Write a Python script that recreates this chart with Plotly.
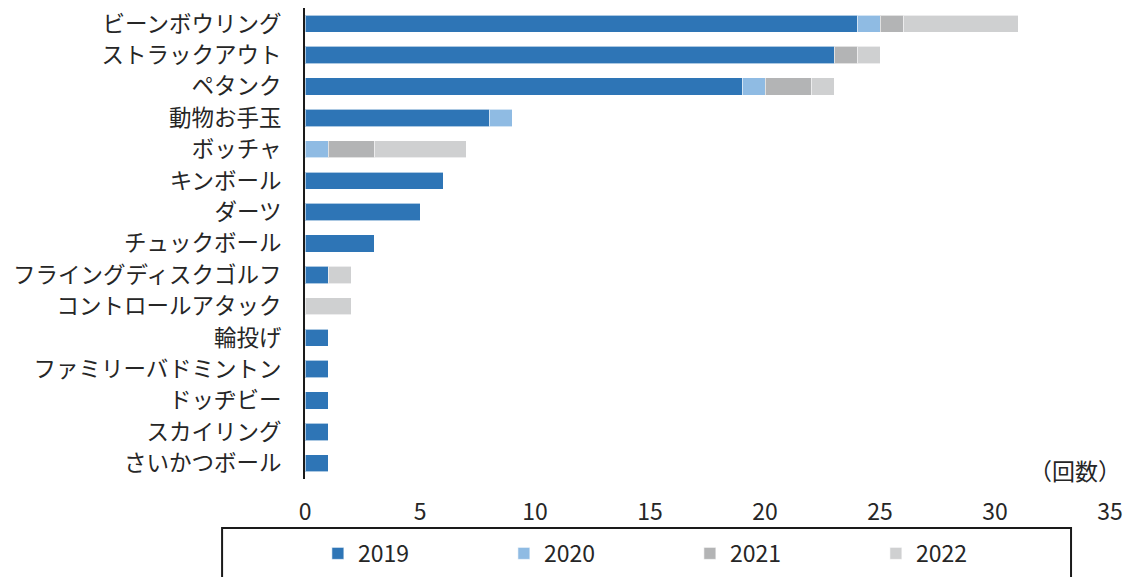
import plotly.graph_objects as go

# Categories listed top to bottom
categories = [
    "ビーンボウリング", "ストラックアウト", "ペタンク", "動物お手玉", "ボッチャ",
    "キンボール", "ダーツ", "チュックボール", "フライングディスクゴルフ",
    "コントロールアタック", "輪投げ", "ファミリーバドミントン", "ドッヂビー",
    "スカイリング", "さいかつボール",
]

years = ["2019", "2020", "2021", "2022"]

counts_2019 = [24, 23, 19, 8, 0, 6, 5, 3, 1, 0, 1, 1, 1, 1, 1]
counts_2020 = [1, 0, 1, 1, 1, 0, 0, 0, 0, 0, 0, 0, 0, 0, 0]
counts_2021 = [1, 1, 2, 0, 2, 0, 0, 0, 0, 0, 0, 0, 0, 0, 0]
counts_2022 = [5, 1, 1, 0, 4, 0, 0, 0, 1, 2, 0, 0, 0, 0, 0]

x_ticks = [0, 5, 10, 15, 20, 25, 30, 35]

series = [counts_2019, counts_2020, counts_2021, counts_2022]
colors = ["#2E75B6", "#8FBBE3", "#B3B4B5", "#CFD0D1"]

FONT = "Noto Sans CJK JP"
TEXT = "#262626"

fig = go.Figure()
for name, vals, col in zip(years, series, colors):
    fig.add_trace(go.Bar(
        y=categories, x=vals, name=name, orientation="h",
        marker=dict(color=col, line=dict(color="rgba(255,255,255,0.6)", width=1)),
        width=0.55,
    ))

fig.update_layout(
    barmode="stack",
    width=1132, height=577,
    margin=dict(l=305, r=22, t=8, b=98, autoexpand=False),
    paper_bgcolor="white", plot_bgcolor="white",
    font=dict(family=FONT, color=TEXT, size=20),
    showlegend=True,
    legend=dict(
        orientation="h", x=0.016, xanchor="left", y=-0.158, yanchor="middle",
        font=dict(family=FONT, size=23, color=TEXT),
        entrywidth=141, entrywidthmode="pixels",
        traceorder="normal", bgcolor="rgba(0,0,0,0)", itemclick=False,
    ),
    xaxis=dict(
        range=[0, 35], tickvals=x_ticks, ticktext=[str(t) for t in x_ticks],
        showgrid=False, zeroline=False, showline=False, ticks="",
        tickfont=dict(family=FONT, size=23, color=TEXT), ticklabelstandoff=17,
        fixedrange=True,
    ),
    yaxis=dict(
        categoryorder="array", categoryarray=categories[::-1],
        autorange=False, range=[-0.5, len(categories) - 0.5],
        showgrid=False, zeroline=False, showline=True, linecolor="#1a1a1a", linewidth=2,
        ticks="", ticklabelstandoff=17,
        tickfont=dict(family=FONT, size=22.5, color=TEXT),
        fixedrange=True,
    ),
    annotations=[dict(
        text="（回数）", xref="paper", yref="paper", x=1.016, y=0.02,
        xanchor="right", yanchor="middle", showarrow=False,
        font=dict(family=FONT, size=23, color=TEXT),
    )],
    shapes=[dict(
        type="rect", xref="paper", yref="paper",
        x0=-0.103, x1=0.9516, y0=-0.35, y1=-0.104,
        line=dict(color="#1a1a1a", width=2), fillcolor="rgba(0,0,0,0)",
    )],
)

fig.write_html("out.html")
